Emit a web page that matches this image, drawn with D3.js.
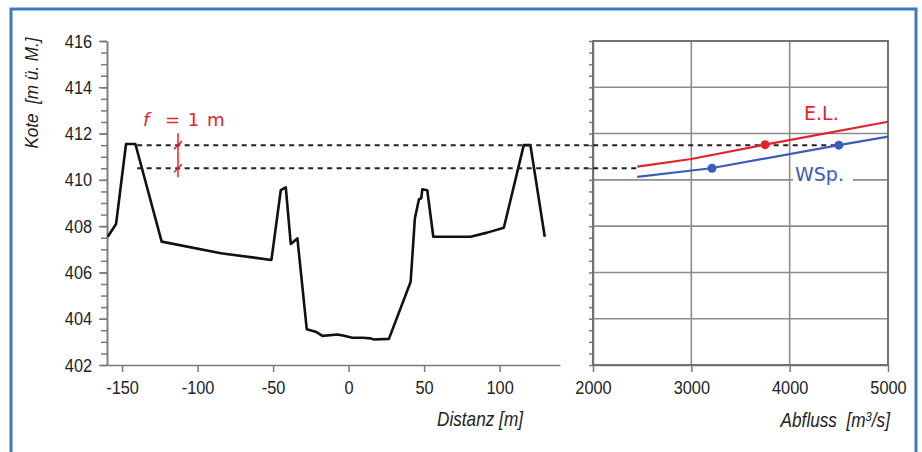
<!DOCTYPE html>
<html>
<head>
<meta charset="utf-8">
<script src="https://cdn.jsdelivr.net/npm/d3@7"></script>
<style>
  body { margin: 0; background: #fff; }
  svg { display: block; font-family: "Liberation Sans", Arial, sans-serif; }
</style>
</head>
<body>
<div id="chart"></div>
<script>
// cross-section profile (distance [m], elevation [m ü. M.])
var profileDist = [-159.5, -154, -147.4, -141.2, -123.8, -84.6, -51.1, -44.9, -41.6, -38.3, -33.9,
                   -27.7, -21.8, -17.3, -7.4, -3, 2.5, 9.1, 14.6, 16.8, 26.7, 41.1, 43.9, 46.6,
                   48.1, 48.8, 52.1, 56.1, 67.5, 80.8, 91.8, 102.8, 116, 120.4, 129.9];
var profileElev = [407.54, 408.09, 411.55, 411.55, 407.33, 406.83, 406.54, 409.56, 409.68, 407.23, 407.47,
                   403.54, 403.44, 403.26, 403.32, 403.26, 403.18, 403.18, 403.15, 403.1, 403.13, 405.6, 408.34, 409.16,
                   409.2, 409.59, 409.55, 407.54, 407.54, 407.54, 407.72, 407.93, 411.5, 411.5, 407.54];

// rating curves (discharge [m3/s], elevation)
var elQ = [2450, 3000, 3750, 5000];
var elZ = [410.57, 410.9, 411.52, 412.51];
var wsQ = [2450, 3200, 4500, 5000];
var wsZ = [410.13, 410.5, 411.5, 411.87];
var elDotQ = [3750], elDotZ = [411.52];
var wsDotQ = [3210, 4500], wsDotZ = [410.5, 411.5];

// freeboard levels
var freeTop = 411.5, freeLow = 410.5;

var distTicks = [-150, -100, -50, 0, 50, 100];
var qTicks = [2000, 3000, 4000, 5000];
var koteTicks = [402, 404, 406, 408, 410, 412, 414, 416];

var red = "#e3232c", blue = "#3b5cb8", axisCol = "#7a7a7a", txtCol = "#222";
var squeeze = "scale(0.86,1)";
var plain = function(d) { return String(d); };

var svg = d3.select("#chart").append("svg")
    .attr("width", 922).attr("height", 452);

// outer blue frame
svg.append("rect")
    .attr("x", 11).attr("y", 9).attr("width", 905).attr("height", 470)
    .attr("fill", "#fff").attr("stroke", "#3a7bb8").attr("stroke-width", 3);

var y = d3.scaleLinear().domain([402, 416]).range([365, 41]);
var x = d3.scaleLinear().domain([-160, 140]).range([107, 560]);
var xq = d3.scaleLinear().domain([2000, 5000]).range([593, 888]);

function styleAxis(g) {
  g.selectAll("path, line").attr("stroke", axisCol).attr("stroke-width", 1.5);
  g.selectAll("text").attr("fill", txtCol).attr("font-size", 19)
    .attr("font-family", "Liberation Sans, Arial, sans-serif")
    .attr("transform", squeeze);
}

// ---- left panel: cross section ----
var minor = d3.range(402, 416.01, 0.5);

svg.append("g")
    .attr("transform", "translate(107,0)")
    .call(d3.axisLeft(y).tickValues(minor).tickSize(6).tickFormat("").tickSizeOuter(0))
    .call(styleAxis);

svg.append("g")
    .attr("transform", "translate(107,0)")
    .call(d3.axisLeft(y).tickValues(koteTicks).tickSize(8).tickPadding(9.4).tickSizeOuter(0).tickFormat(plain))
    .call(styleAxis);

svg.append("g")
    .attr("transform", "translate(0,365)")
    .call(d3.axisBottom(x).tickValues(distTicks).tickSize(7).tickPadding(9).tickSizeOuter(0).tickFormat(plain))
    .call(styleAxis);

var line = d3.line()
    .x(function(d) { return x(d[0]); })
    .y(function(d) { return y(d[1]); });

svg.append("path")
    .datum(d3.zip(profileDist, profileElev))
    .attr("fill", "none").attr("stroke", "#111").attr("stroke-width", 2.6)
    .attr("stroke-linejoin", "round")
    .attr("d", line);

// ---- right panel: rating curve ----
svg.append("g")
    .attr("transform", "translate(593,0)")
    .call(d3.axisLeft(y).tickValues(minor).tickSize(4).tickFormat("").tickSizeOuter(0))
    .call(styleAxis);

svg.append("g")
    .attr("transform", "translate(0,365)")
    .call(d3.axisBottom(xq).tickValues(qTicks).tickSize(7).tickPadding(9).tickSizeOuter(0).tickFormat(plain))
    .call(styleAxis);

var grid = svg.append("g").attr("stroke", "#8c8c8c").attr("stroke-width", 1.6);
grid.selectAll(".gy").data(koteTicks).enter().append("line")
    .attr("x1", xq(2000)).attr("x2", xq(5000))
    .attr("y1", function(d) { return y(d); }).attr("y2", function(d) { return y(d); });
grid.selectAll(".gx").data(qTicks).enter().append("line")
    .attr("y1", y(402)).attr("y2", y(416))
    .attr("x1", function(d) { return xq(d); }).attr("x2", function(d) { return xq(d); });
svg.append("rect")
    .attr("x", xq(2000)).attr("y", y(416))
    .attr("width", xq(5000) - xq(2000)).attr("height", y(402) - y(416))
    .attr("fill", "none").attr("stroke", "#6e6e6e").attr("stroke-width", 1.8);

// dashed freeboard levels across both panels
svg.append("line")
    .attr("x1", x(-140)).attr("x2", xq(wsDotQ[1]))
    .attr("y1", y(freeTop)).attr("y2", y(freeTop))
    .attr("stroke", "#222").attr("stroke-width", 2).attr("stroke-dasharray", "5,4.5");
svg.append("line")
    .attr("x1", x(-140)).attr("x2", xq(elQ[0]))
    .attr("y1", y(freeLow)).attr("y2", y(freeLow))
    .attr("stroke", "#222").attr("stroke-width", 2).attr("stroke-dasharray", "5,4.5");

// WSp. label with white box over the grid
svg.append("rect").attr("x", 793).attr("y", 164).attr("width", 60).attr("height", 22).attr("fill", "#fff");

var qline = d3.line()
    .x(function(d) { return xq(d[0]); })
    .y(function(d) { return y(d[1]); });

svg.append("path").datum(d3.zip(wsQ, wsZ))
    .attr("fill", "none").attr("stroke", blue).attr("stroke-width", 2.2).attr("d", qline);
svg.append("path").datum(d3.zip(elQ, elZ))
    .attr("fill", "none").attr("stroke", red).attr("stroke-width", 2.2).attr("d", qline);

svg.selectAll(".eldot").data(d3.zip(elDotQ, elDotZ)).enter().append("circle")
    .attr("cx", function(d) { return xq(d[0]); }).attr("cy", function(d) { return y(d[1]); })
    .attr("r", 4.5).attr("fill", red);
svg.selectAll(".wsdot").data(d3.zip(wsDotQ, wsDotZ)).enter().append("circle")
    .attr("cx", function(d) { return xq(d[0]); }).attr("cy", function(d) { return y(d[1]); })
    .attr("r", 4.5).attr("fill", blue);

svg.append("text").attr("x", 804).attr("y", 120)
    .attr("font-family", "DejaVu Sans, sans-serif").attr("font-size", 19)
    .attr("fill", red).text("E.L.");
svg.append("text").attr("x", 795).attr("y", 181)
    .attr("font-family", "DejaVu Sans, sans-serif").attr("font-size", 19)
    .attr("fill", blue).text("WSp.");

// freeboard marker f = 1 m
var fx = x(-113);
svg.append("line").attr("x1", fx).attr("x2", fx)
    .attr("y1", y(freeTop) - 12).attr("y2", y(freeLow) + 9)
    .attr("stroke", red).attr("stroke-width", 1.5);
[freeTop, freeLow].forEach(function(v) {
  svg.append("line")
      .attr("x1", fx - 4).attr("x2", fx + 4)
      .attr("y1", y(v) + 4).attr("y2", y(v) - 4)
      .attr("stroke", red).attr("stroke-width", 1.5);
});
svg.append("text").attr("x", 143).attr("y", 126)
    .attr("font-family", "DejaVu Sans, sans-serif").attr("font-size", 18).attr("font-style", "italic")
    .attr("fill", red).text("f");
svg.append("text").attr("x", 165).attr("y", 126)
    .attr("font-family", "DejaVu Sans, sans-serif").attr("font-size", 18).attr("word-spacing", 2)
    .attr("fill", red).text("= 1 m");

// axis titles
svg.append("text")
    .attr("transform", "translate(480,426) scale(0.86,1)")
    .attr("text-anchor", "middle").attr("font-size", 20).attr("font-style", "italic")
    .attr("fill", txtCol).text("Distanz [m]");

var ab = svg.append("text")
    .attr("transform", "translate(890,427) scale(0.86,1)")
    .attr("text-anchor", "end").attr("font-size", 20).attr("font-style", "italic")
    .attr("fill", txtCol).attr("xml:space", "preserve");
ab.append("tspan").text("Abfluss  [m");
ab.append("tspan").attr("font-size", 13).attr("dy", -6).text("3");
ab.append("tspan").attr("dy", 6).text("/s]");

svg.append("text")
    .attr("transform", "translate(38,93) rotate(-90) scale(0.9,1)")
    .attr("text-anchor", "middle").attr("font-size", 19).attr("font-style", "italic")
    .attr("fill", txtCol).attr("xml:space", "preserve").text("Kote  [m ü. M.]");
</script>
</body>
</html>
